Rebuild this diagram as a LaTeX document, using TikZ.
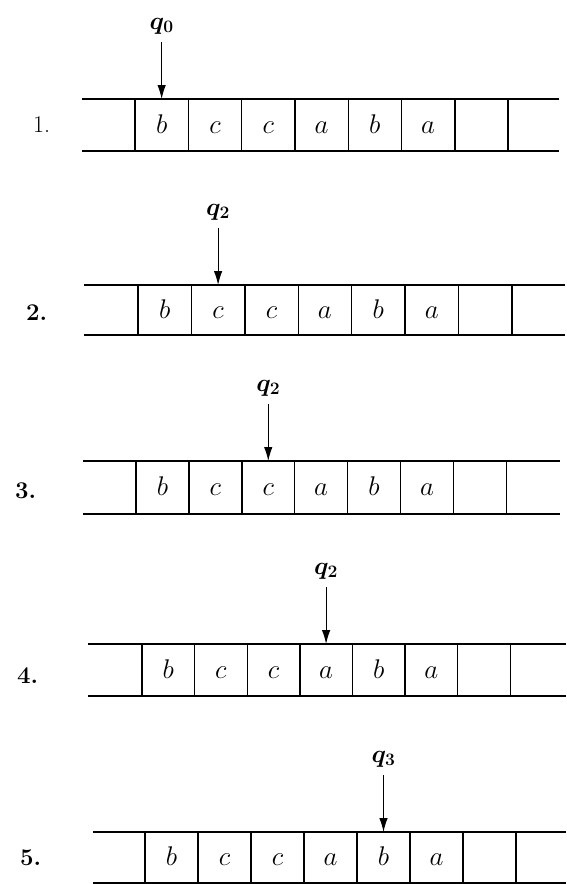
\RequirePackage{fix-cm}
\documentclass[tikz,border=0pt]{standalone}
\usepackage{bm}
\usetikzlibrary{arrows.meta}
\tikzset{
  tapeline/.style={line width=1.5pt},
  divider/.style={line width=1.4pt},
  sym/.style={anchor=base, inner sep=0pt, font=\fontsize{27}{30}\selectfont},
  state/.style={anchor=base, inner sep=0pt, font=\fontsize{25}{28}\selectfont},
  stepnum/.style={anchor=base west, inner sep=0pt, font=\fontsize{24}{28}\selectfont},
  head/.style={line width=1.1pt, -{Latex[length=14pt,width=8.5pt]}, shorten <=8pt},
}
% #1 id, #2 left x, #3 first divider, #4 cell width, #5 top, #6 bottom, #7 right end, #8 head cell index
\newcommand{\tmtape}[8]{%
  \draw[tapeline] (#2,#5) -- (#7,#5);
  \draw[tapeline] (#2,#6) -- (#7,#6);
  \foreach \i in {0,...,7} \draw[divider] ({#3+\i*#4},#5) -- ({#3+\i*#4},#6);
  \foreach \s [count=\i from 0] in {b,c,c,a,b,a}
    \node[sym] (#1-\i) at ({#3+(\i+0.5)*#4},{(#5+#6)/2+8}) {$\s$};
  \coordinate (#1-top) at ({#3+(#8+0.5)*#4},#5);
}
\begin{document}
\begin{tikzpicture}[x=1pt,y=-1pt]
\useasboundingbox (0,0) rectangle (566,884);
\fill[white] (0,0) rectangle (566,884);

\tmtape{t1}{82}{135}{53.3}{99}{151}{559}{0}
\path (t1-top) ++(0,-70) node[state] (q1) {$\bm{q_0}$};
\draw[head] (q1.south) -- (t1-top);
\node[stepnum] (n1) at (33,132) {1.};

\tmtape{t2}{84}{138}{53.4}{285}{335}{565}{1}
\path (t2-top) ++(0,-70) node[state] (q2) {$\bm{q_2}$};
\draw[head] (q2.south) -- (t2-top);
\node[stepnum] (n2) at (26,320) {\bfseries 2.};

\tmtape{t3}{83}{136}{52.9}{461}{514}{560}{2}
\path (t3-top) ++(0,-70) node[state] (q3) {$\bm{q_2}$};
\draw[head] (q3.south) -- (t3-top);
\node[stepnum] (n3) at (15,498) {\bfseries 3.};

\tmtape{t4}{88}{142}{52.6}{644}{696}{566}{3}
\path (t4-top) ++(0,-70) node[state] (q4) {$\bm{q_2}$};
\draw[head] (q4.south) -- (t4-top);
\node[stepnum] (n4) at (17,683) {\bfseries 4.};

\tmtape{t5}{93}{145}{53}{832}{883}{566}{4}
\path (t5-top) ++(0,-70) node[state] (q5) {$\bm{q_3}$};
\draw[head] (q5.south) -- (t5-top);
\node[stepnum] (n5) at (20,865) {\bfseries 5.};
\end{tikzpicture}
\end{document}
